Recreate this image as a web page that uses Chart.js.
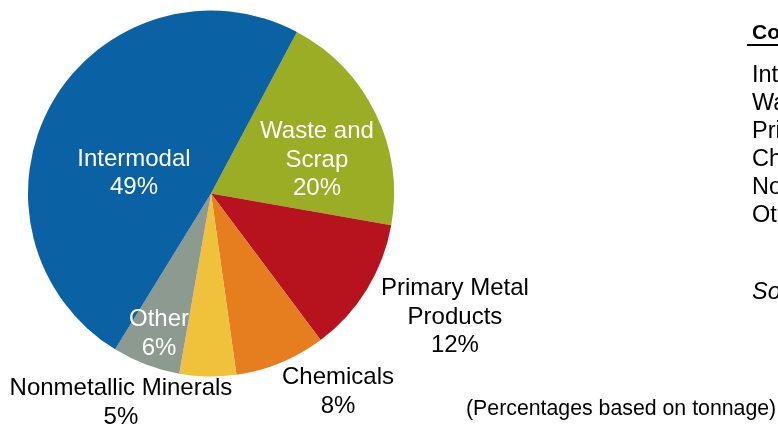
<!DOCTYPE html>
<html>
<head>
<meta charset="utf-8">
<script src="https://cdn.jsdelivr.net/npm/chart.js@4"></script>
<style>
  html, body { margin: 0; padding: 0; background: #fff; }
  #wrap { width: 778px; height: 424px; position: relative; }
</style>
</head>
<body>
<div id="wrap"><canvas id="c" width="778" height="424"></canvas></div>
<script>
// ---- data ----
const categories = ["Waste and Scrap", "Primary Metal Products", "Chemicals", "Nonmetallic Minerals", "Other", "Intermodal"];
const shares = [20, 12, 8, 5, 6, 49];
const labelLines = [
  ["Waste and", "Scrap", "20%"],
  ["Primary Metal", "Products", "12%"],
  ["Chemicals", "8%"],
  ["Nonmetallic Minerals", "5%"],
  ["Other", "6%"],
  ["Intermodal", "49%"]
];
const sideHeading = "Commodity";
const sideItems = ["Intermodal", "Waste and Scrap", "Primary Metal Products", "Chemicals", "Nonmetallic Minerals", "Other"];
const sideSource = "Source:";
const note = "(Percentages based on tonnage)";

// ---- styles ----
const colors = ["#9BAD24", "#B6131E", "#E67D1F", "#F0C23C", "#8C9A90", "#0A61A4"];
const labelColors = ["#fff", "#000", "#000", "#000", "#fff", "#fff"];
// label anchor offsets, in units of the pie radius from its centre
const labelOffsets = [
  [0.579, -0.197], [1.333, 0.661], [0.694, 1.071], [-0.492, 1.131], [-0.284, 0.754], [-0.421, -0.123]
];
const FONT = '"Liberation Sans", Arial, sans-serif';

const textPlugin = {
  id: 'texts',
  afterDatasetsDraw(chart) {
    const ctx = chart.ctx;
    const meta = chart.getDatasetMeta(0);
    const arc0 = meta.data[0];
    const cx = arc0.x, cy = arc0.y, r = arc0.outerRadius;
    ctx.save();
    ctx.textAlign = 'center';
    ctx.textBaseline = 'middle';
    ctx.font = '24px ' + FONT;
    const lh = 28.5;
    labelLines.forEach((lines, i) => {
      const x = cx + labelOffsets[i][0] * r;
      const y0 = cy + labelOffsets[i][1] * r - (lines.length - 1) * lh / 2 + 2.5;
      ctx.fillStyle = labelColors[i];
      lines.forEach((t, k) => ctx.fillText(t, x, y0 + k * lh));
    });
    // note
    ctx.fillStyle = '#000';
    ctx.textAlign = 'left';
    ctx.font = '21.3px ' + FONT;
    ctx.fillText(note, 466, 409);
    // side table (clipped at right edge)
    ctx.font = 'bold 21px ' + FONT;
    ctx.fillText(sideHeading, 752, 33);
    ctx.fillRect(747, 44, 40, 2);
    ctx.font = '23.5px ' + FONT;
    sideItems.forEach((t, k) => ctx.fillText(t, 752, 76 + k * 28));
    ctx.font = 'italic 23.5px ' + FONT;
    ctx.fillText(sideSource, 752, 292);
    ctx.restore();
  }
};

new Chart(document.getElementById('c'), {
  type: 'pie',
  data: {
    labels: categories,
    datasets: [{
      data: shares,
      backgroundColor: colors,
      borderWidth: 0
    }]
  },
  options: {
    responsive: false,
    animation: false,
    rotation: 28,
    layout: { padding: { left: 28, top: 10, right: 384, bottom: 47 } },
    plugins: { legend: { display: false }, tooltip: { enabled: false } }
  },
  plugins: [textPlugin]
});
</script>
</body>
</html>
